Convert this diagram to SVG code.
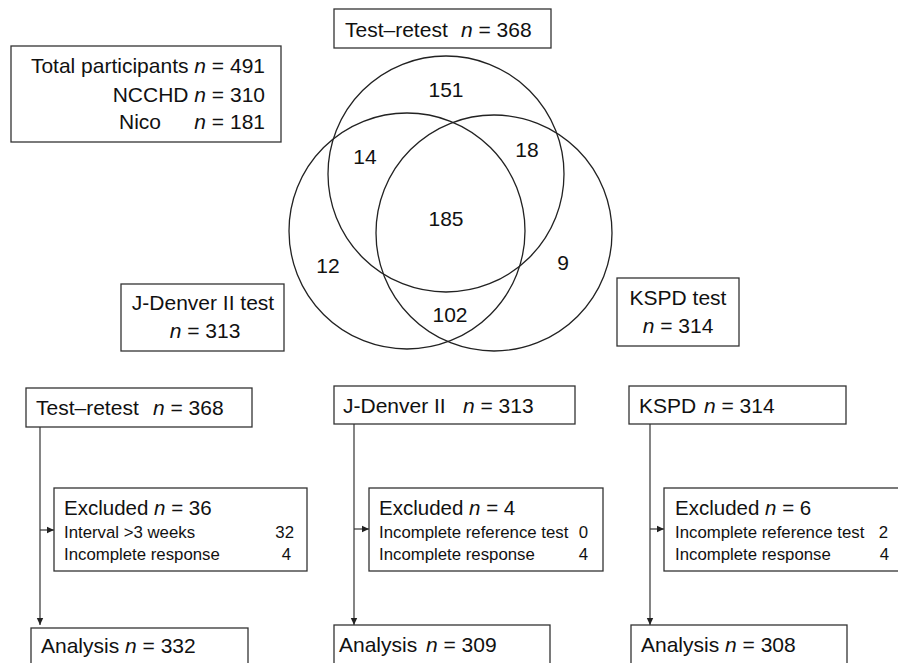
<svg xmlns="http://www.w3.org/2000/svg" width="898" height="663" viewBox="0 0 898 663">
<defs>
<style>
.box{fill:#fff;stroke:#333;stroke-width:1.3}
.circ{fill:none;stroke:#222;stroke-width:1.3}
.ln{fill:none;stroke:#333;stroke-width:1.2}
text{font-family:"Liberation Sans",Arial,sans-serif;fill:#111}
.big{font-size:21px}
.mid{font-size:20.5px}
.sm{font-size:16.8px}
.it{font-style:italic}
</style>
<marker id="arr" markerWidth="8" markerHeight="8" refX="7" refY="4" orient="auto" markerUnits="userSpaceOnUse">
<path d="M0,0.8 L7,4 L0,7.2 Z" fill="#222"/>
</marker>
</defs>
<rect width="898" height="663" fill="#fff"/>

<g id="venn">
<circle class="circ" cx="446" cy="174" r="118"/>
<circle class="circ" cx="407" cy="231" r="118"/>
<circle class="circ" cx="494" cy="233" r="118"/>
<g class="big" text-anchor="middle">
<text x="446" y="97">151</text>
<text x="365" y="164">14</text>
<text x="527" y="157">18</text>
<text x="446" y="226">185</text>
<text x="328" y="273">12</text>
<text x="563" y="270">9</text>
<text x="450" y="322">102</text>
</g>
</g>

<g id="total">
<rect class="box" x="11" y="46" width="270" height="96"/>
<text class="big" x="265" y="73" text-anchor="end">Total participants <tspan class="it">n</tspan> = 491</text>
<text class="big" x="265" y="102" text-anchor="end">NCCHD <tspan class="it">n</tspan> = 310</text>
<text class="big" x="119" y="129">Nico</text>
<text class="big" x="265" y="129" text-anchor="end"><tspan class="it">n</tspan> = 181</text>
</g>

<g id="venn-testretest">
<rect class="box" x="334" y="9" width="217" height="39"/>
<text class="big" x="345" y="37">Test–retest<tspan class="it" x="461">n</tspan> = 368</text>
</g>

<g id="venn-jdenver">
<rect class="box" x="121" y="284" width="163" height="67"/>
<text class="big" x="203" y="310" text-anchor="middle">J-Denver II test</text>
<text class="big" x="205" y="338" text-anchor="middle"><tspan class="it">n</tspan> = 313</text>
</g>

<g id="venn-kspd">
<rect class="box" x="617" y="278" width="122" height="68"/>
<text class="big" x="678" y="305" text-anchor="middle">KSPD test</text>
<text class="big" x="678" y="333" text-anchor="middle"><tspan class="it">n</tspan> = 314</text>
</g>

<g id="connectors">
<path class="ln" d="M40,427 V625" marker-end="url(#arr)"/>
<path class="ln" d="M40,530 H54" marker-end="url(#arr)"/>
<path class="ln" d="M354,424 V625" marker-end="url(#arr)"/>
<path class="ln" d="M354,529 H369" marker-end="url(#arr)"/>
<path class="ln" d="M650,424 V625" marker-end="url(#arr)"/>
<path class="ln" d="M650,529 H664" marker-end="url(#arr)"/>
</g>

<g id="flow-testretest">
<rect class="box" x="26" y="388" width="226" height="39"/>
<text class="big" x="36" y="415">Test–retest<tspan class="it" x="153">n</tspan> = 368</text>
</g>
<g id="flow-jdenver">
<rect class="box" x="334" y="386" width="241" height="38"/>
<text class="big" x="343" y="413">J-Denver II<tspan class="it" x="463">n</tspan> = 313</text>
</g>
<g id="flow-kspd">
<rect class="box" x="629" y="386" width="217" height="38"/>
<text class="big" x="639" y="413">KSPD<tspan class="it" x="704">n</tspan> = 314</text>
</g>

<g id="excl-testretest">
<rect class="box" x="54" y="488" width="253" height="83"/>
<text class="mid" x="64" y="515">Excluded <tspan class="it">n</tspan> = 36</text>
<text class="sm" x="64" y="538">Interval &gt;3 weeks</text>
<text class="sm" x="294" y="538" text-anchor="end">32</text>
<text class="sm" x="64" y="560">Incomplete response</text>
<text class="sm" x="291" y="560" text-anchor="end">4</text>
</g>
<g id="excl-jdenver">
<rect class="box" x="369" y="488" width="234" height="83"/>
<text class="mid" x="379" y="515">Excluded <tspan class="it">n</tspan> = 4</text>
<text class="sm" x="379" y="538">Incomplete reference test</text>
<text class="sm" x="588" y="538" text-anchor="end">0</text>
<text class="sm" x="379" y="560">Incomplete response</text>
<text class="sm" x="588" y="560" text-anchor="end">4</text>
</g>
<g id="excl-kspd">
<rect class="box" x="664" y="488" width="240" height="83"/>
<text class="mid" x="675" y="515">Excluded <tspan class="it">n</tspan> = 6</text>
<text class="sm" x="675" y="538">Incomplete reference test</text>
<text class="sm" x="888" y="538" text-anchor="end">2</text>
<text class="sm" x="675" y="560">Incomplete response</text>
<text class="sm" x="889" y="560" text-anchor="end">4</text>
</g>

<g id="analysis-testretest">
<rect class="box" x="31" y="628" width="217" height="50"/>
<text class="big" x="41" y="653">Analysis <tspan class="it">n</tspan> = 332</text>
</g>
<g id="analysis-jdenver">
<rect class="box" x="334" y="625" width="216" height="50"/>
<text class="big" x="339" y="652">Analysis<tspan class="it" x="426">n</tspan> = 309</text>
</g>
<g id="analysis-kspd">
<rect class="box" x="631" y="625" width="216" height="50"/>
<text class="big" x="641" y="652">Analysis <tspan class="it">n</tspan> = 308</text>
</g>
</svg>
